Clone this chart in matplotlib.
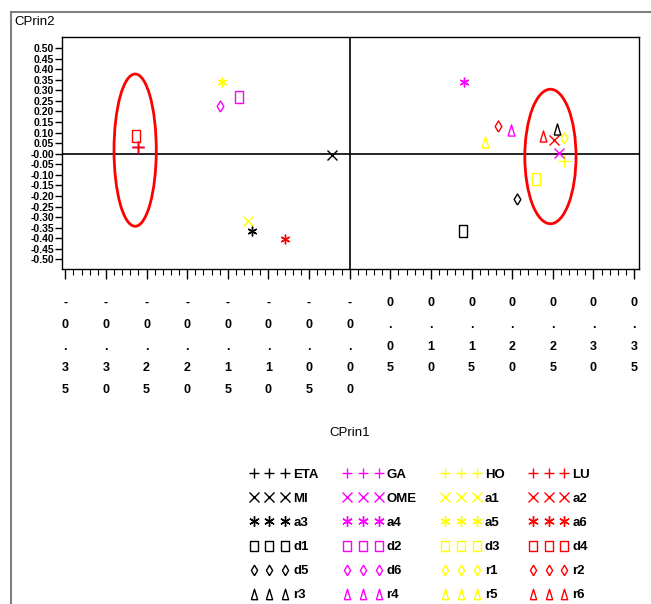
import numpy as np
import matplotlib.pyplot as plt
from matplotlib.lines import Line2D
from matplotlib.patches import Ellipse
from matplotlib.ticker import MultipleLocator

# dati (CPrin1, CPrin2), in ordine alfabetico SAS
names = ["ETA", "GA", "HO", "LU", "MI", "OME",
         "a1", "a2", "a3", "a4", "a5", "a6",
         "d1", "d2", "d3", "d4", "d5", "d6",
         "r1", "r2", "r3", "r4", "r5", "r6"]
cprin1 = [-0.261, -0.261, 0.264, -0.260, -0.022, 0.257,
          -0.125, 0.251, -0.120, 0.141, -0.157, -0.079,
          0.139, -0.136, 0.229, -0.263, 0.206, -0.160,
          0.264, 0.183, 0.255, 0.199, 0.166, 0.238]
cprin2 = [0.034, 0.034, -0.035, 0.034, -0.008, 0.003,
          -0.319, 0.066, -0.366, 0.338, 0.341, -0.402,
          -0.363, 0.270, -0.120, 0.085, -0.214, 0.226,
          0.075, 0.131, 0.116, 0.110, 0.057, 0.085]

# ellissi evidenziate (centro x, centro y, larghezza, altezza)
ell_x = [-0.264, 0.247]
ell_y = [0.017, -0.013]
ell_w = [0.052, 0.063]
ell_h = [0.720, 0.636]

xticks = np.round(np.arange(-0.35, 0.351, 0.05), 2)
yticks = np.round(np.arange(-0.50, 0.501, 0.05), 2)

colors = ["black", "#ff00ff", "#ffff00", "#ff0000"]
rect = [(-0.75, -1), (0.75, -1), (0.75, 1), (-0.75, 1), (-0.75, -1)]
diam = [(0, -1), (0.6, 0), (0, 1), (-0.6, 0), (0, -1)]
tri = [(-0.6, -1), (0.6, -1), (0, 1), (-0.6, -1)]
markers = ["+", "x", (6, 2, 0), rect, diam, tri]
msizes = [8, 7, 7, 8, 8, 8]

sans = ["Liberation Sans", "DejaVu Sans"]

fig = plt.figure(figsize=(6.51, 6.04), dpi=100)
ax = fig.add_axes([62 / 651, 1 - 269 / 604, 577 / 651, 232 / 604])

ax.set_xlim(-0.354, 0.356)
ax.set_ylim(-0.545, 0.552)
ax.axhline(0, color="black", lw=1.2, zorder=1)
ax.axvline(0, color="black", lw=1.2, zorder=1)

handles = []
for i, nm in enumerate(names):
    c = colors[i % 4]
    m = markers[i // 4]
    h, = ax.plot(cprin1[i], cprin2[i], ls="none", marker=m, ms=msizes[i // 4],
                 mec=c, mfc="none", mew=1.0, label=nm, zorder=3)
    handles.append(h)

for cx, cy, w, hgt in zip(ell_x, ell_y, ell_w, ell_h):
    ax.add_patch(Ellipse((cx, cy), w, hgt, fill=False, ec="#ff0000", lw=2, zorder=4))

# tick asse x: caratteri impilati in verticale
xlabels = ["\n".join(f"{t:.2f}") for t in xticks]
ax.set_xticks(xticks, labels=xlabels)
ax.xaxis.set_minor_locator(MultipleLocator(0.01))
for lab in ax.get_xticklabels():
    lab.set_linespacing(2.1)
    lab.set_family(sans)
    lab.set_fontweight("bold")
    lab.set_verticalalignment("top")
ax.tick_params(axis="x", which="major", length=7, width=1, pad=13, labelsize=9)
ax.tick_params(axis="x", which="minor", length=4, width=0.8)

ax.set_yticks(yticks, labels=[f"{t:.2f}" for t in yticks])
for lab in ax.get_yticklabels():
    lab.set_family(sans)
    lab.set_fontweight("bold")
ax.tick_params(axis="y", length=5, width=1, pad=0.5, labelsize=7.5)

for sp in ax.spines.values():
    sp.set_linewidth(1)

fig.text(14 / 651, 1 - 22 / 604, "CPrin2", family=sans, fontsize=9.5, va="center", ha="left")
fig.text(350 / 651, 1 - 433 / 604, "CPrin1", family=sans, fontsize=9.5, va="center", ha="center")

# legenda: 4 colonne, ordine per righe come SAS
order = [r * 4 + c for c in range(4) for r in range(6)]
leg = fig.legend([handles[k] for k in order], [names[k] for k in order],
                 ncol=4, numpoints=3, frameon=False, loc="upper left",
                 bbox_to_anchor=(243 / 651, 1 - 462 / 604),
                 prop={"family": sans, "weight": "bold", "size": 9.5},
                 handlelength=3.0, handletextpad=0.3, columnspacing=1.85,
                 labelspacing=0.9, borderpad=0)
for h in leg.legend_handles:
    h.set_markersize(7.5)

# cornice esterna grigia
fig.add_artist(Line2D([11 / 651, 1], [1 - 12 / 604, 1 - 12 / 604], color="#7f7f7f", lw=1.5))
fig.add_artist(Line2D([11 / 651, 11 / 651], [0, 1 - 12 / 604], color="#7f7f7f", lw=1.5))

fig.savefig("out.png", dpi=100)
